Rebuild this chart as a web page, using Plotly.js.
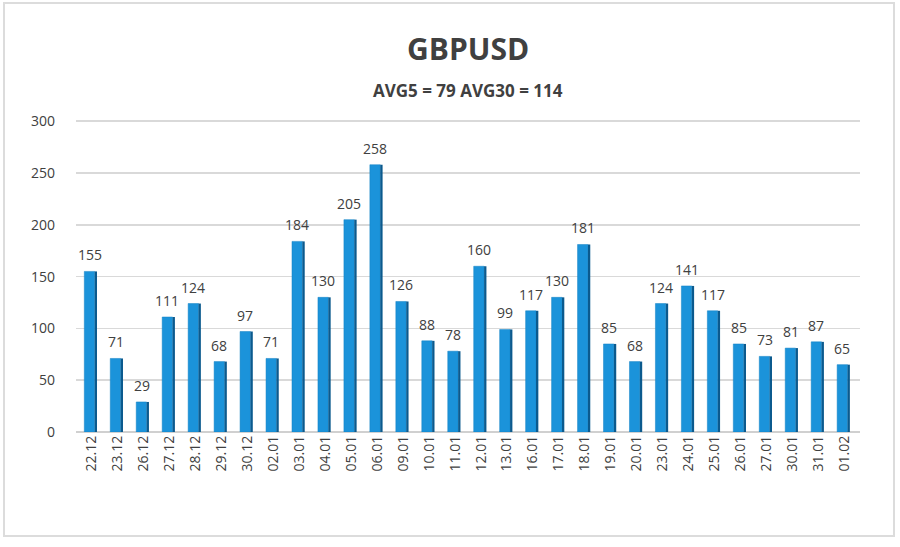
<!DOCTYPE html>
<html>
<head>
<meta charset="utf-8">
<script src="https://cdn.plot.ly/plotly-3.0.1.min.js"></script>
<style>
html,body{margin:0;padding:0;background:#fff;}
#wrap{position:absolute;left:3px;top:2px;width:892px;height:535px;border:2px solid #dcdcdc;box-sizing:border-box;}
#chart{position:absolute;left:0;top:0;width:900px;height:547px;}
</style>
</head>
<body>
<div id="wrap"></div>
<div id="chart"></div>
<script>
const chartTitle = "GBPUSD";
const subTitle = "AVG5 = 79 AVG30 = 114";
const dates = ["22.12","23.12","26.12","27.12","28.12","29.12","30.12","02.01","03.01","04.01","05.01","06.01","09.01","10.01","11.01","12.01","13.01","16.01","17.01","18.01","19.01","20.01","23.01","24.01","25.01","26.01","27.01","30.01","31.01","01.02"];
const values = [155,71,29,111,124,68,97,71,184,130,205,258,126,88,78,160,99,117,130,181,85,68,124,141,117,85,73,81,87,65];
const yTicks = [0,50,100,150,200,250,300];

const font = "'Open Sans', 'DejaVu Sans', sans-serif";
const traces = [
  {
    type: "bar", x: dates, y: values,
    width: 0.4, offset: -0.28,
    marker: {color: "#1b93da", line: {color: "#1380c4", width: 0.5}},
    cliponaxis: false, hoverinfo: "x+y"
  },
  {
    type: "bar", x: dates, y: values,
    width: 0.09, offset: 0.12,
    marker: {color: "#0b5a8e", line: {width: 0}},
    hoverinfo: "skip"
  }
];

// category axes use the category index as the annotation coordinate
const labelAnns = dates.map((d, i) => ({
  x: i, y: values[i], xref: "x", yref: "y",
  text: String(values[i]), showarrow: false,
  xanchor: "center", yanchor: "bottom", yshift: 5, xshift: -2,
  font: {family: font, size: 14, color: "#404040"}
}));

const layout = {
  width: 900, height: 547,
  paper_bgcolor: "rgba(0,0,0,0)", plot_bgcolor: "rgba(0,0,0,0)",
  showlegend: false,
  barmode: "overlay",
  margin: {l: 76, r: 40, t: 115, b: 115},
  xaxis: {
    type: "category", tickangle: -90,
    tickfont: {family: font, size: 14, color: "#404040"},
    showgrid: false, showline: false, zeroline: false, ticks: "",
    range: [-0.6, 29.6]
  },
  yaxis: {
    range: [0, 306], tickvals: yTicks, ticktext: yTicks.map(String),
    tickfont: {family: font, size: 14, color: "#404040"},
    showgrid: true, gridcolor: "#d9d9d9", gridwidth: 1.5,
    zeroline: true, zerolinecolor: "#d0d0d0", zerolinewidth: 1.5,
    showline: false, ticks: "", ticklabelstandoff: 20
  },
  annotations: [
    {text: "<b>" + chartTitle + "</b>", xref: "paper", yref: "paper", x: 0.5, y: 1, xanchor: "center", yanchor: "middle",
     yshift: 67, showarrow: false, font: {family: font, size: 30, color: "#404040"}},
    {text: "<b>" + subTitle + "</b>", xref: "paper", yref: "paper", x: 0.5, y: 1, xanchor: "center", yanchor: "middle",
     yshift: 25, showarrow: false, font: {family: font, size: 17, color: "#404040"}}
  ].concat(labelAnns)
};
Plotly.newPlot("chart", traces, layout, {displayModeBar: false, staticPlot: true});
</script>
</body>
</html>
